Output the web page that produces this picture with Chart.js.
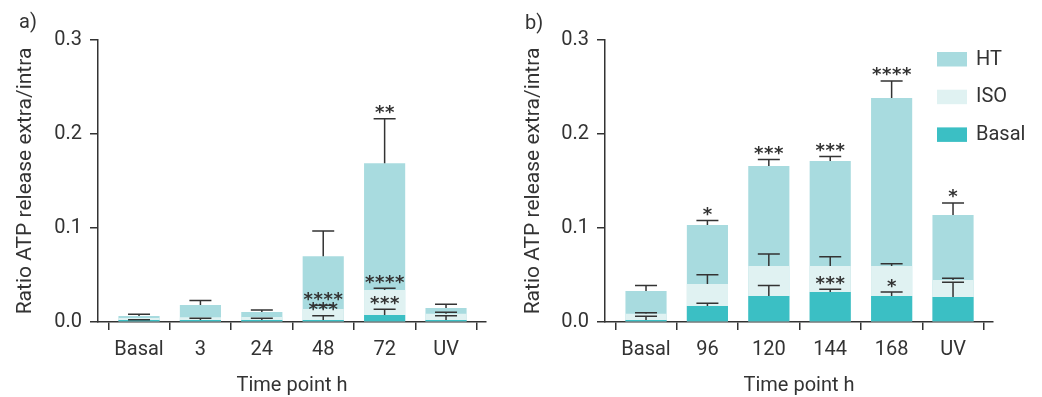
<!DOCTYPE html>
<html>
<head>
<meta charset="utf-8">
<script src="https://cdn.jsdelivr.net/npm/chart.js@4.4.0/dist/chart.umd.min.js"></script>
<style>
    html, body { margin: 0; padding: 0; background: #fff; }
    #wrap { position: relative; width: 1042px; height: 397px; overflow: hidden; }
    #panelA { position: absolute; left: 0; top: 0; }
    #panelB { position: absolute; left: 520px; top: 0; }
</style>
</head>
<body>
<div id="wrap">
    <canvas id="panelA" width="520" height="397"></canvas>
    <canvas id="panelB" width="522" height="397"></canvas>
</div>
<script>
// ---- data ----
const seriesNames = ['HT', 'ISO', 'Basal'];
const yTicks = [0, 0.1, 0.2, 0.3];

// panel a
const labelsA = ['Basal', '3', '24', '48', '72', 'UV'];
const htA = [0.0064, 0.018, 0.0106, 0.070, 0.169, 0.0149];
const htErrA = [0.0018, 0.005, 0.0022, 0.0268, 0.0473, 0.0039];
const isoA = [0.0043, 0.005, 0.0053, 0.0138, 0.034, 0.0088];
const isoErrA = [0, 0, 0, 0.004, 0.002, 0.0015];
const basalA = [0.002, 0.002, 0.002, 0.002, 0.0074, 0.002];
const basalErrA = [0.0005, 0.002, 0.002, 0.0047, 0.0061, 0.0047];
const htStarsA = ['', '', '', '', '**', ''];
const isoStarsA = ['', '', '', '****', '****', ''];
const basalStarsA = ['', '', '', '***', '***', ''];

// panel b
const labelsB = ['Basal', '96', '120', '144', '168', 'UV'];
const htB = [0.033, 0.1032, 0.166, 0.1713, 0.2383, 0.1138];
const htErrB = [0.0057, 0.0048, 0.007, 0.0047, 0.0181, 0.0128];
const isoB = [0.0088, 0.0404, 0.0596, 0.0596, 0.0596, 0.0447];
const isoErrB = [0.0011, 0.0099, 0.0127, 0.0099, 0.0024, 0.0018];
const basalB = [0.002, 0.017, 0.0277, 0.0319, 0.0277, 0.0266];
const basalErrB = [0.004, 0.0029, 0.011, 0.0029, 0.0042, 0.0156];
const htStarsB = ['', '*', '***', '***', '****', '*'];
const isoStarsB = ['', '', '', '', '', ''];
const basalStarsB = ['', '', '', '***', '*', ''];

const colors = ['#a8dbdf', '#e0f2f2', '#3bbfc4'];
const ink = '#333333';
const fontFamily = 'Roboto, "Liberation Sans", sans-serif';

// error bars + significance stars
const errorBarPlugin = {
    id: 'errorBars',
    afterDatasetsDraw(chart) {
        const ctx = chart.ctx;
        const yScale = chart.scales.y;
        ctx.save();
        ctx.strokeStyle = ink;
        ctx.fillStyle = ink;
        ctx.lineWidth = 1.5;
        chart.data.datasets.forEach((ds, di) => {
            const meta = chart.getDatasetMeta(di);
            meta.data.forEach((bar, i) => {
                const err = ds.errors[i];
                const yCap = yScale.getPixelForValue(ds.data[i].y + err);
                if (err > 0) {
                    ctx.beginPath();
                    ctx.moveTo(bar.x, bar.y);
                    ctx.lineTo(bar.x, yCap);
                    ctx.moveTo(bar.x - 11, yCap);
                    ctx.lineTo(bar.x + 11, yCap);
                    ctx.stroke();
                }
                const stars = ds.stars[i];
                if (stars) {
                    ctx.font = 'bold 18px "DejaVu Sans"';
                    ctx.textAlign = 'center';
                    ctx.textBaseline = 'alphabetic';
                    const m = ctx.measureText('*');
                    const mid = (m.actualBoundingBoxAscent - m.actualBoundingBoxDescent) / 2;
                    const cy = yCap - 9;
                    for (let k = 0; k < stars.length; k++) {
                        const cx = bar.x + (k - (stars.length - 1) / 2) * 10;
                        ctx.fillText('*', cx, cy + mid);
                    }
                }
            });
        });
        ctx.restore();
    }
};

// panel letter and optional legend
const decorPlugin = {
    id: 'decor',
    afterDraw(chart, args, opts) {
        const ctx = chart.ctx;
        ctx.save();
        ctx.fillStyle = ink;
        ctx.font = '20px ' + fontFamily;
        ctx.textAlign = 'left';
        ctx.textBaseline = 'middle';
        ctx.fillText(opts.tag, opts.tagX, opts.tagY);
        if (opts.legend) {
            seriesNames.forEach((name, i) => {
                const top = 52 + i * 37.7;
                ctx.fillStyle = colors[i];
                ctx.fillRect(417, top, 30, 14.5);
                ctx.fillStyle = ink;
                ctx.fillText(name, 456, top + 7.5);
            });
        }
        ctx.restore();
    }
};

function makePanel(id, p) {
    const toXY = arr => arr.map((v, i) => ({ x: i, y: v }));
    const values = [p.ht, p.iso, p.basal];
    const errs = [p.htErr, p.isoErr, p.basalErr];
    const stars = [p.htStars, p.isoStars, p.basalStars];
    const datasets = seriesNames.map((name, i) => ({
        label: name,
        data: toXY(values[i]),
        errors: errs[i],
        stars: stars[i],
        backgroundColor: colors[i],
        borderWidth: 0,
        grouped: false,
        order: 3 - i,
        barPercentage: 0.67,
        categoryPercentage: 1.0
    }));

    return new Chart(document.getElementById(id), {
        type: 'bar',
        data: { datasets: datasets },
        options: {
            responsive: false,
            animation: false,
            devicePixelRatio: 1,
            layout: { padding: { top: 40, right: p.padRight, left: 0, bottom: 0 } },
            plugins: {
                legend: { display: false },
                tooltip: { enabled: false },
                decor: { tag: p.tag, tagX: p.tagX, tagY: p.tagY, legend: p.legend }
            },
            scales: {
                x: {
                    type: 'linear',
                    min: -0.668,
                    max: 5.651,
                    offset: false,
                    afterBuildTicks: s => { s.ticks = p.labels.map((l, i) => ({ value: i })); },
                    afterFit: s => { s.height = 75; },
                    ticks: {
                        autoSkip: false,
                        maxRotation: 0,
                        padding: 8,
                        color: ink,
                        font: { family: fontFamily, size: 20 },
                        callback: v => p.labels[v]
                    },
                    grid: { drawOnChartArea: false, drawTicks: true, tickLength: 8, color: ink, lineWidth: 1.5 },
                    border: { display: true, color: ink, width: 1.5 },
                    title: {
                        display: true,
                        text: 'Time point h',
                        color: ink,
                        font: { family: fontFamily, size: 20, lineHeight: 1 },
                        padding: { top: 0, bottom: 1 }
                    }
                },
                y: {
                    min: 0,
                    max: 0.3,
                    afterBuildTicks: s => { s.ticks = yTicks.map(v => ({ value: v })); },
                    afterFit: s => { s.width = p.yWidth; },
                    ticks: {
                        padding: 8,
                        color: ink,
                        font: { family: fontFamily, size: 20 },
                        callback: v => v.toFixed(1)
                    },
                    grid: { drawOnChartArea: false, drawTicks: true, tickLength: 8, color: ink, lineWidth: 1.5 },
                    border: { display: true, color: ink, width: 1.5 },
                    title: {
                        display: true,
                        text: 'Ratio ATP release extra/intra',
                        color: ink,
                        font: { family: fontFamily, size: 21, lineHeight: 1 },
                        padding: { top: p.yTitlePad, bottom: 0 }
                    }
                }
            }
        },
        plugins: [errorBarPlugin, decorPlugin]
    });
}

makePanel('panelA', {
    labels: labelsA, ht: htA, iso: isoA, basal: basalA,
    htErr: htErrA, isoErr: isoErrA, basalErr: basalErrA,
    htStars: htStarsA, isoStars: isoStarsA, basalStars: basalStarsA,
    padRight: 34, yWidth: 98, yTitlePad: 15, tag: 'a)', tagX: 19, tagY: 23, legend: false
});

makePanel('panelB', {
    labels: labelsB, ht: htB, iso: isoB, basal: basalB,
    htErr: htErrB, isoErr: isoErrB, basalErr: basalErrB,
    htStars: htStarsB, isoStars: isoStarsB, basalStars: basalStarsB,
    padRight: 49, yWidth: 85, yTitlePad: 3, tag: 'b)', tagX: 5, tagY: 24, legend: true
});
</script>
</body>
</html>
